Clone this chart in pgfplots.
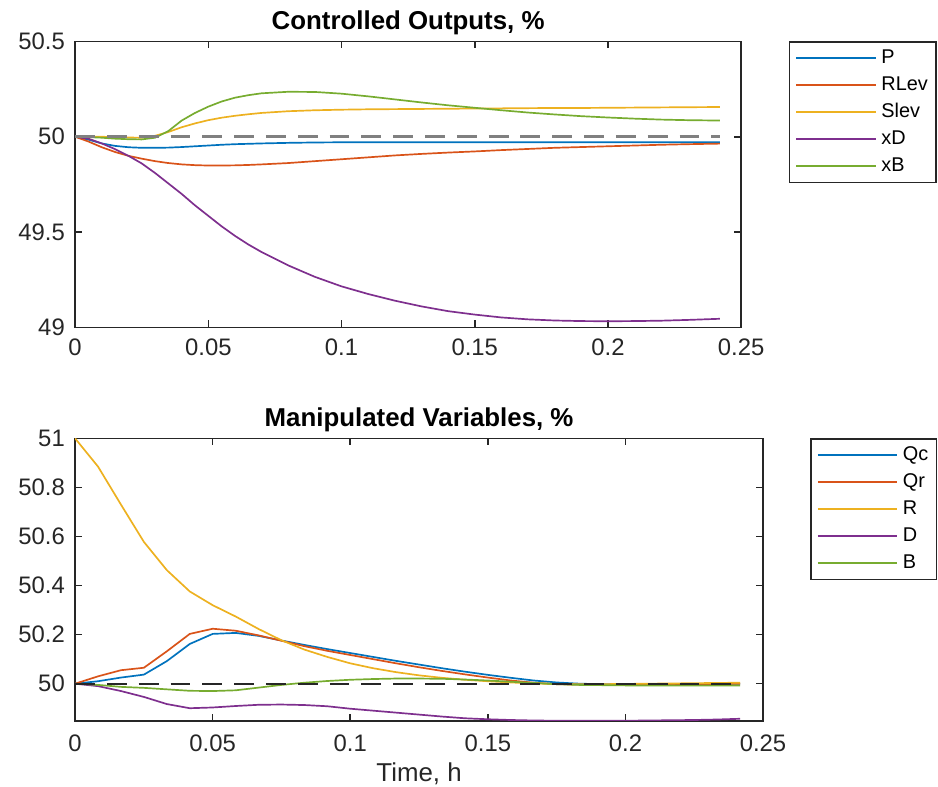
\documentclass[border=0pt]{standalone}
\usepackage{fontspec}
\setmainfont{Liberation Sans}
\usepackage{pgfplots}
\usepackage{pgfplotstable}
\pgfplotsset{compat=1.18}
\definecolor{c1}{rgb}{0,0.447,0.741}
\definecolor{c2}{rgb}{0.85,0.325,0.098}
\definecolor{c3}{rgb}{0.929,0.694,0.125}
\definecolor{c4}{rgb}{0.494,0.184,0.556}
\definecolor{c5}{rgb}{0.466,0.674,0.188}
\definecolor{axc}{rgb}{0.15,0.15,0.15}
\begin{document}
\pgfplotstableread{
t      P       RLev    Slev    xD      xB
0      50      50      50      50      50
0.005  49.985  49.975  50.0    49.99   49.998
0.01   49.965  49.945  50.0    49.965  49.995
0.015  49.952  49.92   49.998  49.935  49.99
0.02   49.945  49.90   49.996  49.90   49.987
0.025  49.942  49.885  49.995  49.86   49.986
0.03   49.942  49.872  50.005  49.81   49.995
0.035  49.943  49.862  50.025  49.755  50.03
0.04   49.946  49.855  50.05   49.70   50.085
0.045  49.95   49.851  50.07   49.64   50.125
0.05   49.954  49.849  50.087  49.585  50.158
0.055  49.958  49.849  50.1    49.53   50.185
0.06   49.961  49.85   50.11   49.48   50.205
0.065  49.963  49.852  50.118  49.435  50.218
0.07   49.965  49.855  50.125  49.395  50.228
0.08   49.968  49.862  50.134  49.325  50.236
0.09   49.97   49.872  50.139  49.265  50.235
0.1    49.971  49.882  50.142  49.215  50.226
0.11   49.971  49.892  50.144  49.175  50.212
0.12   49.971  49.902  50.145  49.14   50.196
0.13   49.971  49.91   50.146  49.11   50.18
0.14   49.971  49.917  50.147  49.085  50.165
0.15   49.971  49.923  50.148  49.067  50.152
0.16   49.971  49.93   50.149  49.052  50.139
0.17   49.971  49.936  50.15   49.042  50.127
0.18   49.971  49.942  50.151  49.036  50.117
0.19   49.971  49.946  50.151  49.033  50.108
0.2    49.971  49.95   50.152  49.032  50.101
0.21   49.971  49.954  50.153  49.033  50.095
0.22   49.971  49.958  50.154  49.035  50.09
0.23   49.971  49.961  50.155  49.039  50.087
0.242  49.971  49.964  50.156  49.045  50.085
}\cotable
\pgfplotstableread{
t        Qc      Qr      R       D       B
0        50      50      51      50      50
0.00833  50.01   50.03   50.885  49.99   49.995
0.01667  50.025  50.055  50.73   49.97   49.987
0.025    50.037  50.065  50.578  49.946  49.983
0.03333  50.092  50.132  50.463  49.917  49.977
0.04167  50.162  50.203  50.376  49.9    49.971
0.05     50.203  50.224  50.32   49.903  49.97
0.05833  50.207  50.216  50.274  49.909  49.973
0.06667  50.195  50.197  50.223  49.914  49.984
0.075    50.176  50.175  50.177  49.915  49.995
0.08333  50.158  50.153  50.139  49.913  50.004
0.09167  50.141  50.134  50.109  49.908  50.011
0.1      50.125  50.117  50.083  49.898  50.016
0.10833  50.109  50.1    50.063  49.89   50.019
0.11667  50.093  50.083  50.047  49.882  50.021
0.125    50.078  50.067  50.034  49.874  50.021
0.13333  50.063  50.052  50.024  49.866  50.02
0.14167  50.049  50.038  50.016  49.859  50.017
0.15     50.036  50.025  50.01   49.855  50.013
0.15833  50.024  50.013  50.005  49.852  50.008
0.16667  50.013  50.004  50.001  49.85   50.003
0.175    50.005  49.998  49.999  49.849  49.998
0.18333  50.0    49.996  49.998  49.849  49.995
0.19167  49.998  49.996  49.998  49.849  49.994
0.2      49.998  49.997  49.999  49.849  49.993
0.20833  49.998  49.997  50.0    49.85   49.993
0.21667  49.998  49.998  50.001  49.851  49.993
0.225    49.999  49.998  50.002  49.852  49.993
0.23333  49.999  49.999  50.003  49.854  49.993
0.24167  50.0    50.0    50.004  49.857  49.993
}\mvtable
\pgfplotsset{
  mlstyle/.style={
    scale only axis,
    xmin=0, xmax=0.25,
    axis line style={draw=axc, line width=0.8pt},
    tick style={draw=axc, line width=0.8pt},
    major tick length=3.5pt,
    tick align=inside,
    xtick pos=both, ytick pos=both,
    ticklabel style={font=\fontsize{12}{14}\selectfont, text=axc},
    yticklabel style={anchor=east, inner sep=0pt, xshift=-5pt},
    xtick={0,0.05,0.1,0.15,0.2,0.25},
    xticklabels={0,0.05,0.1,0.15,0.2,0.25},
    title style={font=\bfseries\fontsize{13}{15}\selectfont, text=black, at={(0.5,1)}, anchor=base, yshift=-0.2pt},
    every axis plot/.append style={line width=0.85pt},
    legend image code/.code={\draw[##1, line width=1pt] (0pt,0pt) -- (40pt,0pt);},
    legend cell align=left,
    legend style={draw=axc, line width=0.8pt, fill=white,
      font=\fontsize{10}{12}\selectfont,
      inner xsep=3pt, inner ysep=2.3pt, row sep=2.1pt, column sep=1.3pt,
      nodes={inner sep=1pt, text height=7.5pt, text depth=2pt}},
  }
}
\begin{tikzpicture}
\path[use as bounding box] (0pt,0pt) rectangle (469pt,-395.5pt);
\begin{axis}[mlstyle,
  at={(35pt,-164.65pt)}, anchor=south west,
  width=335pt, height=143.8pt,
  ymin=49, ymax=50.5,
  ytick={49,49.5,50,50.5},
  yticklabels={49,49.5,50,50.5},
  xticklabel style={anchor=base, yshift=-14.2pt},
  title={Controlled Outputs, \%},
  legend style={at={(1.0712,1)}, anchor=north west},
]
\addplot[c1] table[x=t,y=P] {\cotable};
\addlegendentry{P}
\addplot[c2] table[x=t,y=RLev] {\cotable};
\addlegendentry{RLev}
\addplot[c3] table[x=t,y=Slev] {\cotable};
\addlegendentry{Slev}
\addplot[c4] table[x=t,y=xD] {\cotable};
\addlegendentry{xD}
\addplot[c5] table[x=t,y=xB] {\cotable};
\addlegendentry{xB}
\addplot[forget plot, color=black!50, line width=1.5pt, dash pattern=on 10pt off 6pt] coordinates {(0,50) (0.242,50)};
\end{axis}
\begin{axis}[mlstyle,
  at={(35pt,-362.5pt)}, anchor=south west,
  width=346pt, height=142pt,
  ymin=49.849, ymax=51,
  ytick={50,50.2,50.4,50.6,50.8,51},
  yticklabels={50,50.2,50.4,50.6,50.8,51},
  xticklabel style={anchor=base, yshift=-15.5pt},
  title={Manipulated Variables, \%},
  xlabel={Time, h},
  xlabel style={at={(0.5,0)}, anchor=base, yshift=-30.6pt, font=\fontsize{13}{15}\selectfont, text=axc},
  legend style={at={(1.0684,1)}, anchor=north west},
]
\addplot[c1] table[x=t,y=Qc] {\mvtable};
\addlegendentry{Qc}
\addplot[c2] table[x=t,y=Qr] {\mvtable};
\addlegendentry{Qr}
\addplot[c3] table[x=t,y=R] {\mvtable};
\addlegendentry{R}
\addplot[c4] table[x=t,y=D] {\mvtable};
\addlegendentry{D}
\addplot[c5] table[x=t,y=B] {\mvtable};
\addlegendentry{B}
\addplot[forget plot, color=axc, line width=1pt, dash pattern=on 10pt off 6pt] coordinates {(0,50) (0.242,50)};
\end{axis}
\end{tikzpicture}
\end{document}
